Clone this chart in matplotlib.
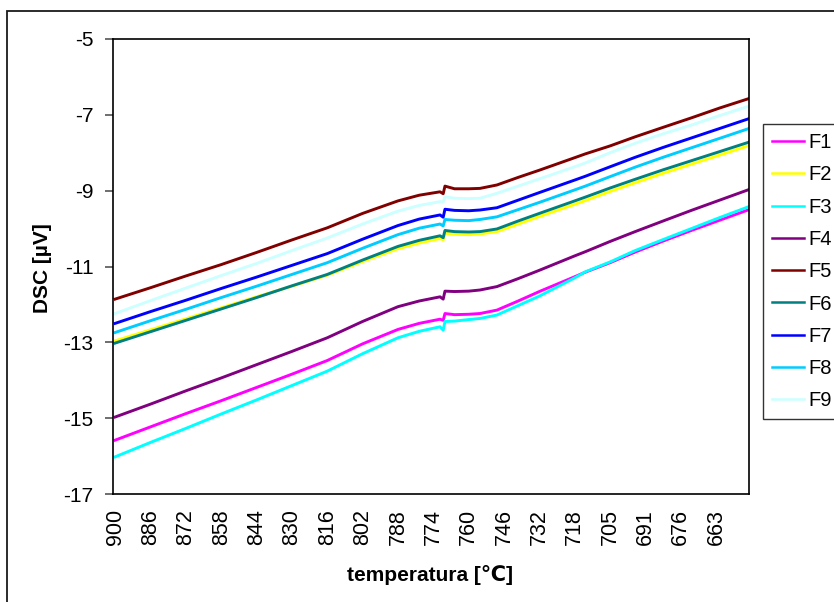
import matplotlib
matplotlib.use("Agg")
import matplotlib.pyplot as plt
from matplotlib.patches import Rectangle

plt.rcParams['font.family'] = ['Liberation Sans', 'DejaVu Sans']
plt.rcParams['axes.unicode_minus'] = False

# category positions (in units of tick-label steps) of the sampled points
pos = [0, 1, 2, 3, 4, 5, 6, 7, 8, 8.6, 9.19, 9.28, 9.33, 9.6, 10.0, 10.32,
       10.8, 11.4, 12.0, 13.0, 13.3, 14.0, 14.71, 15.5, 16.3, 17.1, 17.93]

tick_labels = ['900', '886', '872', '858', '844', '830', '816', '802', '788',
               '774', '760', '746', '732', '718', '705', '691', '676', '663']

F1 = [-15.58, -15.23, -14.88, -14.54, -14.19, -13.84, -13.48, -13.04, -12.66,
      -12.50, -12.39, -12.42, -12.24, -12.27, -12.26, -12.24, -12.15, -11.91,
      -11.66, -11.27, -11.15, -10.90, -10.62, -10.33, -10.05, -9.78, -9.50]
F2 = [-12.96, -12.67, -12.38, -12.09, -11.80, -11.52, -11.23, -10.87, -10.53,
      -10.38, -10.26, -10.30, -10.12, -10.15, -10.16, -10.14, -10.08, -9.88,
      -9.68, -9.36, -9.26, -9.02, -8.79, -8.54, -8.30, -8.06, -7.81]
F3 = [-16.02, -15.64, -15.27, -14.89, -14.52, -14.14, -13.76, -13.30, -12.88,
      -12.71, -12.59, -12.68, -12.45, -12.44, -12.40, -12.37, -12.28, -12.03,
      -11.78, -11.30, -11.14, -10.88, -10.58, -10.29, -10.00, -9.71, -9.42]
F4 = [-14.97, -14.63, -14.28, -13.94, -13.59, -13.24, -12.88, -12.45, -12.06,
      -11.91, -11.80, -11.86, -11.65, -11.66, -11.65, -11.62, -11.53, -11.32,
      -11.10, -10.72, -10.61, -10.34, -10.08, -9.80, -9.52, -9.25, -8.97]
F5 = [-11.86, -11.56, -11.25, -10.95, -10.63, -10.30, -9.98, -9.60, -9.27,
      -9.12, -9.03, -9.08, -8.88, -8.95, -8.95, -8.94, -8.85, -8.65,
      -8.46, -8.13, -8.03, -7.82, -7.58, -7.33, -7.08, -6.82, -6.57]
F6 = [-13.02, -12.72, -12.42, -12.12, -11.82, -11.51, -11.21, -10.83, -10.47,
      -10.31, -10.19, -10.24, -10.05, -10.08, -10.09, -10.08, -10.01, -9.80,
      -9.60, -9.27, -9.17, -8.93, -8.70, -8.45, -8.21, -7.97, -7.72]
F7 = [-12.50, -12.19, -11.89, -11.58, -11.28, -10.97, -10.66, -10.28, -9.92,
      -9.75, -9.64, -9.70, -9.49, -9.52, -9.53, -9.51, -9.45, -9.25,
      -9.05, -8.72, -8.62, -8.37, -8.12, -7.86, -7.61, -7.36, -7.10]
F8 = [-12.74, -12.43, -12.13, -11.82, -11.52, -11.21, -10.90, -10.52, -10.16,
      -9.99, -9.88, -9.93, -9.76, -9.78, -9.79, -9.76, -9.69, -9.50,
      -9.31, -8.98, -8.88, -8.63, -8.38, -8.12, -7.87, -7.62, -7.36]
F9 = [-12.24, -11.90, -11.57, -11.24, -10.92, -10.58, -10.25, -9.88, -9.54,
      -9.39, -9.29, -9.30, -9.16, -9.20, -9.21, -9.20, -9.07, -8.88,
      -8.69, -8.37, -8.27, -8.00, -7.75, -7.50, -7.27, -7.02, -6.77]

series = [('F1', F1, '#FF00FF'), ('F2', F2, '#FFFF00'), ('F3', F3, '#00FFFF'),
          ('F4', F4, '#800080'), ('F5', F5, '#800000'), ('F6', F6, '#008080'),
          ('F7', F7, '#0000FF'), ('F8', F8, '#00CCFF'), ('F9', F9, '#CCFFFF')]

W, H = 834, 602
fig = plt.figure(figsize=(W / 100, H / 100), dpi=100)
fig.patch.set_facecolor('white')

# outer chart-area border (runs past the right and bottom edges)
top = 1 - 11 / H
fig.patches.append(Rectangle((7 / W, -0.2), 1.2, top + 0.2,
                             transform=fig.transFigure, fill=False,
                             edgecolor='#1a1a1a', linewidth=1.3))

ax = fig.add_axes([113 / W, 1 - 494 / H, (749 - 113) / W, (494 - 39) / H])

handles = []
for name, vals, col in series:
    h, = ax.plot(pos, vals, color=col, linewidth=2.1, label=name,
                 solid_joinstyle='round')
    handles.append(h)

ax.set_xlim(-0.06, 17.93)
ax.set_ylim(-17, -5)
ax.set_yticks(range(-17, -4, 2))
ax.set_xticks(range(len(tick_labels)))
ax.set_xticklabels(tick_labels, rotation=90, fontsize=15.5)
ax.tick_params(axis='x', length=0, pad=11)
ax.tick_params(axis='y', direction='out', length=6, width=1.2,
               color='#555555', labelsize=15, pad=8)
for s in ax.spines.values():
    s.set_linewidth(1.2)
    s.set_color('black')

fig.text(43 / W, 1 - 268 / H, 'DSC [µV]', rotation=90, fontsize=15,
         fontweight='bold', ha='center', va='center')
fig.text(430 / W, 1 - 575 / H, 'temperatura [℃]', fontsize=15,
         fontweight='bold', ha='center', va='center')

leg = fig.legend(handles=handles, loc='upper left',
                 bbox_to_anchor=(763 / W, 1 - 124 / H),
                 bbox_transform=fig.transFigure, borderaxespad=0,
                 fontsize=14.5, frameon=True, fancybox=False, shadow=False,
                 handlelength=1.6, handletextpad=0.2, labelspacing=0.66,
                 borderpad=0.45)
leg.get_frame().set_edgecolor('black')
leg.get_frame().set_linewidth(1.0)
for line in leg.get_lines():
    line.set_linewidth(1.8)

fig.savefig('out.png', dpi=100, facecolor='white')
